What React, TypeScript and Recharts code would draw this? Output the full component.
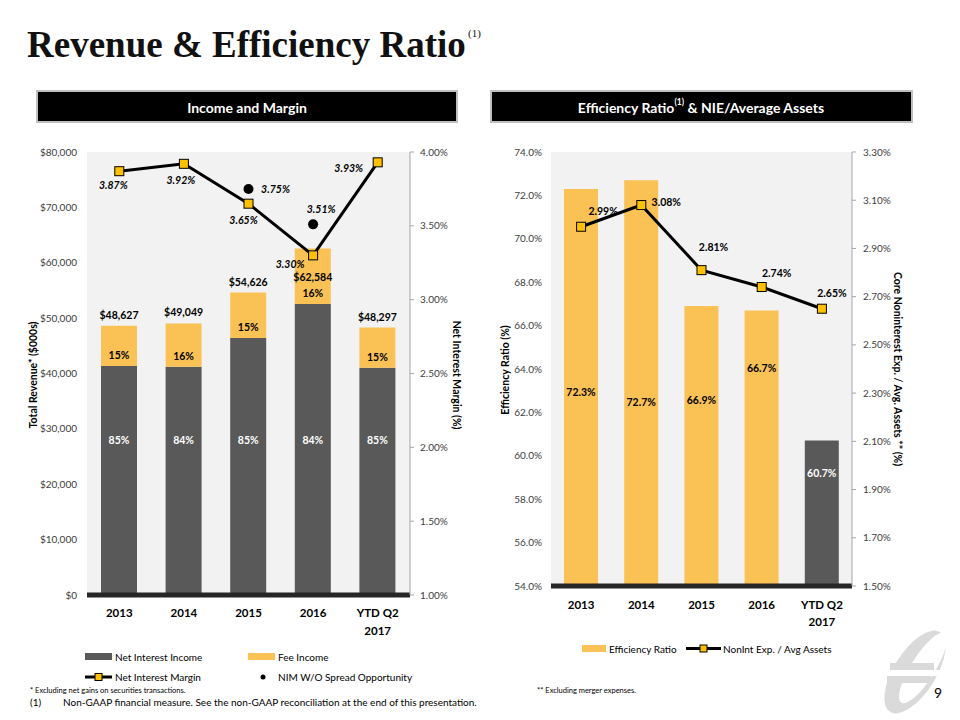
import React from 'react';
import { ComposedChart, Bar, Line, XAxis, YAxis, CartesianGrid, LabelList, Cell } from 'recharts';

// ---------- data ----------
const categories = ['2013', '2014', '2015', '2016', 'YTD Q2\n2017'];
const totalRevenue = [48627, 49049, 54626, 62584, 48297];
const netInterestIncome = [41333, 41201, 46432, 52571, 41052];
const feeIncome = [7294, 7848, 8194, 10013, 7245];
const niiShareLabels = ['85%', '84%', '85%', '84%', '85%'];
const feeShareLabels = ['15%', '16%', '15%', '16%', '15%'];
const netInterestMargin = [3.87, 3.92, 3.65, 3.30, 3.93];
const nimWithoutSpread = [null, null, 3.75, 3.51, null];

const efficiencyRatio = [72.3, 72.7, 66.9, 66.7, 60.7];
const nonIntExpAvgAssets = [2.99, 3.08, 2.81, 2.74, 2.65];

const revenueTicks = [0, 10000, 20000, 30000, 40000, 50000, 60000, 70000, 80000];
const nimTicks = [1.0, 1.5, 2.0, 2.5, 3.0, 3.5, 4.0];
const effTicks = [54, 56, 58, 60, 62, 64, 66, 68, 70, 72, 74];
const nieTicks = [1.5, 1.7, 1.9, 2.1, 2.3, 2.5, 2.7, 2.9, 3.1, 3.3];

// ---------- styles ----------
const ORANGE = '#FAC155';
const DARK = '#595959';
const MARKER = '#FFC000';
const PLOT_BG = '#F2F2F2';
const FONT = 'Lato, "Open Sans", sans-serif';
const TICK_STYLE = { fontSize: 10, fill: '#404040', fontFamily: FONT };
const EFF_COLORS = [ORANGE, ORANGE, ORANGE, ORANGE, DARK];
const EFF_TEXT = ['#000', '#000', '#000', '#000', '#fff'];
// label placement (dx, dy) relative to the marker / bar top
const NIM_LABEL_OFFSETS = [[-6, 14], [-3, 16], [-5, 16], [-23, 9], [-29, 6]];
const SPREAD_LABEL_OFFSETS = [[0, 0], [0, 0], [27, 0], [8, -15], [0, 0]];
const NIE_LABEL_OFFSETS = [[22, -16], [25, -3], [12, -23], [15, -14], [10, -16]];
const EFF_LABEL_DROP = [203, 222, 94, 58, 32];

const incomeData = categories.map((c, i) => ({
  name: c,
  nii: netInterestIncome[i],
  fee: feeIncome[i],
  total: totalRevenue[i],
  niiShare: niiShareLabels[i],
  feeShare: feeShareLabels[i],
  nim: netInterestMargin[i],
  nimWo: nimWithoutSpread[i],
}));

const effData = categories.map((c, i) => ({
  name: c,
  eff: efficiencyRatio[i],
  nie: nonIntExpAvgAssets[i],
}));

const CategoryTick = (dy0: number, dy1: number) => (props: any) => {
  const { x, y, payload } = props;
  const lines = String(payload.value).split('\n');
  return (
    <text x={x} y={y} textAnchor="middle" fontFamily={FONT} fontWeight={700} fontSize={11.5} fill="#000">
      {lines.map((l, i) => (
        <tspan key={i} x={x} dy={i === 0 ? dy0 : dy1}>{l}</tspan>
      ))}
    </text>
  );
};

const SquareDot = (props: any) => {
  const { cx, cy, index } = props;
  if (cx == null || cy == null) return <g key={index} />;
  return <rect key={index} x={cx - 4.5} y={cy - 4.5} width={9} height={9} fill={MARKER} stroke="#000" strokeWidth={1} />;
};

const BlackDot = (props: any) => {
  const { cx, cy, index, value } = props;
  if (cx == null || cy == null || value == null) return <g key={index} />;
  return <circle key={index} cx={cx} cy={cy} r={5} fill="#000" />;
};

const pointLabel = (offsets: number[][], italic: boolean) => (props: any) => {
  const { x, y, value, index } = props;
  if (value == null || x == null || y == null) return null;
  const [dx, dy] = offsets[index];
  return (
    <text x={x + dx} y={y + dy} textAnchor="middle" dominantBaseline="central" fontFamily={FONT}
      fontWeight={700} fontStyle={italic ? 'italic' : 'normal'} fontSize={10.5} fill="#000">
      {`${Number(value).toFixed(2)}%`}
    </text>
  );
};

const totalLabel = (props: any) => {
  const { x, y, width, index } = props;
  const ty = index === 3 ? y + 29 : y - 11;
  return (
    <text x={x + width / 2} y={ty} textAnchor="middle" dominantBaseline="central" fontFamily={FONT}
      fontWeight={700} fontSize={10.5} fill="#000">
      {`$${totalRevenue[index].toLocaleString('en-US')}`}
    </text>
  );
};

const feeShareLabel = (props: any) => {
  const { x, y, width, height, value } = props;
  return (
    <text x={x + width / 2} y={y + height - 11} textAnchor="middle" dominantBaseline="central" fontFamily={FONT}
      fontWeight={700} fontSize={10.5} fill="#000">{value}</text>
  );
};

const niiShareLabel = (props: any) => {
  const { x, y, width, height, value } = props;
  return (
    <text x={x + width / 2} y={y + height - 155} textAnchor="middle" dominantBaseline="central" fontFamily={FONT}
      fontWeight={700} fontSize={10.5} fill="#fff">{value}</text>
  );
};

const effLabel = (props: any) => {
  const { x, y, width, value, index } = props;
  return (
    <text x={x + width / 2} y={y + EFF_LABEL_DROP[index]} textAnchor="middle" dominantBaseline="central" fontFamily={FONT}
      fontWeight={700} fontSize={10.5} fill={EFF_TEXT[index]}>{`${Number(value).toFixed(1)}%`}</text>
  );
};

const Logo = () => (
  <g>
    <defs>
      <mask id="logoMask">
        <rect x={860} y={615} width={100} height={105} fill="#fff" />
        <ellipse cx={923} cy={668} rx={12} ry={41} transform="rotate(32 923 668)" fill="#000" />
        <rect x={880} y={670} width={60} height={6} fill="#000" />
      </mask>
    </defs>
    <g mask="url(#logoMask)" fill="#DADADA">
      <ellipse cx={915} cy={672} rx={21} ry={47} transform="rotate(32 915 672)" />
    </g>
    <rect x={890} y={663} width={44} height={7} fill="#DADADA" />
    <rect x={887} y={676} width={44} height={7} fill="#DADADA" />
  </g>
);

export default function App() {
  return (
    <div style={{ position: 'absolute', left: 0, top: 0, width: 960, height: 720, background: '#fff', overflow: 'hidden' }}>
      {/* left chart */}
      <div style={{ position: 'absolute', left: 0, top: 0 }}>
        <ComposedChart width={480} height={660} data={incomeData}
          margin={{ top: 152, right: 20, left: 27, bottom: 25 }}>
          <CartesianGrid yAxisId="left" horizontal={false} vertical={false} fill={PLOT_BG} stroke="none" />
          <XAxis dataKey="name" height={40} interval={0} tickLine={false}
            axisLine={{ stroke: '#262626', strokeWidth: 5 }} tick={CategoryTick(14, 18)} />
          <YAxis yAxisId="left" width={60} domain={[0, 80000]} ticks={revenueTicks} interval={0}
            axisLine={false} tickLine={false} tickSize={4} tickMargin={6} tick={TICK_STYLE}
            tickFormatter={(v: number) => `$${v.toLocaleString('en-US')}`} />
          <YAxis yAxisId="right" orientation="right" width={50} domain={[1, 4]} ticks={nimTicks} interval={0}
            axisLine={{ stroke: '#A6A6A6' }} tickLine={{ stroke: '#A6A6A6' }} tickSize={4} tickMargin={6} tick={TICK_STYLE}
            tickFormatter={(v: number) => `${v.toFixed(2)}%`} />
          <Bar yAxisId="left" dataKey="nii" stackId="rev" fill={DARK} barSize={36} isAnimationActive={false}>
            <LabelList dataKey="niiShare" content={niiShareLabel} />
          </Bar>
          <Bar yAxisId="left" dataKey="fee" stackId="rev" fill={ORANGE} barSize={36} isAnimationActive={false}>
            <LabelList dataKey="feeShare" content={feeShareLabel} />
            <LabelList dataKey="total" content={totalLabel} />
          </Bar>
          <Line yAxisId="right" dataKey="nim" stroke="#000" strokeWidth={3} dot={SquareDot} activeDot={false}
            isAnimationActive={false}>
            <LabelList dataKey="nim" content={pointLabel(NIM_LABEL_OFFSETS, true)} />
          </Line>
          <Line yAxisId="right" dataKey="nimWo" stroke="none" strokeWidth={0} dot={BlackDot} activeDot={false}
            isAnimationActive={false}>
            <LabelList dataKey="nimWo" content={pointLabel(SPREAD_LABEL_OFFSETS, true)} />
          </Line>
        </ComposedChart>
      </div>

      {/* right chart */}
      <div style={{ position: 'absolute', left: 480, top: 0 }}>
        <ComposedChart width={480} height={640} data={effData}
          margin={{ top: 152, right: 48, left: 16, bottom: 14 }}>
          <CartesianGrid yAxisId="left" horizontal={false} vertical={false} fill={PLOT_BG} stroke="none" />
          <XAxis dataKey="name" height={40} interval={0} tickLine={false}
            axisLine={{ stroke: '#262626', strokeWidth: 5 }} tick={CategoryTick(15, 17)} />
          <YAxis yAxisId="left" width={55} domain={[54, 74]} ticks={effTicks} interval={0} allowDataOverflow
            axisLine={false} tickLine={false} tickSize={4} tickMargin={5} tick={TICK_STYLE}
            tickFormatter={(v: number) => `${v.toFixed(1)}%`} />
          <YAxis yAxisId="right" orientation="right" width={60} domain={[1.5, 3.3]} ticks={nieTicks} interval={0}
            axisLine={{ stroke: '#A6A6A6' }} tickLine={{ stroke: '#A6A6A6' }} tickSize={4} tickMargin={7} tick={TICK_STYLE}
            tickFormatter={(v: number) => `${v.toFixed(2)}%`} />
          <Bar yAxisId="left" dataKey="eff" barSize={34} isAnimationActive={false}>
            {effData.map((d, i) => <Cell key={d.name} fill={EFF_COLORS[i]} />)}
            <LabelList dataKey="eff" content={effLabel} />
          </Bar>
          <Line yAxisId="right" dataKey="nie" stroke="#000" strokeWidth={3} dot={SquareDot} activeDot={false}
            isAnimationActive={false}>
            <LabelList dataKey="nie" content={pointLabel(NIE_LABEL_OFFSETS, false)} />
          </Line>
        </ComposedChart>
      </div>

      {/* static overlay: title, headers, axis titles, legends, footnotes */}
      <svg width={960} height={720} style={{ position: 'absolute', left: 0, top: 0, pointerEvents: 'none' }}>
        <text x={27} y={57} fontFamily='"Liberation Serif", serif' fontWeight={700} fontSize={37} fill="#111">Revenue &amp; Efficiency Ratio</text>
        <text x={468} y={37} fontFamily='"Liberation Serif", serif' fontSize={11} fill="#111">(1)</text>

        <rect x={37} y={91} width={420} height={31} fill="#000" stroke="#BFBFBF" strokeWidth={2} />
        <text x={247} y={107} textAnchor="middle" dominantBaseline="central" fontFamily={FONT} fontWeight={700} fontSize={14} fill="#fff">Income and Margin</text>
        <rect x={491} y={91} width={421} height={31} fill="#000" stroke="#BFBFBF" strokeWidth={2} />
        <text x={701} y={107} textAnchor="middle" dominantBaseline="central" fontFamily={FONT} fontWeight={700} fontSize={14} fill="#fff">
          Efficiency Ratio<tspan fontSize={8.5} dy={-5}>(1)</tspan><tspan dy={5}> &amp; NIE/Average Assets</tspan>
        </text>

        {/* axis titles */}
        <text transform="translate(33 375) rotate(-90)" textAnchor="middle" dominantBaseline="central" fontFamily={FONT} fontWeight={700} fontSize={10.5} fill="#000">Total Revenue* ($000s)</text>
        <text transform="translate(457 375) rotate(90)" textAnchor="middle" dominantBaseline="central" fontFamily={FONT} fontWeight={700} fontSize={10.5} fill="#000">Net Interest Margin (%)</text>
        <text transform="translate(505 370) rotate(-90)" textAnchor="middle" dominantBaseline="central" fontFamily={FONT} fontWeight={700} fontSize={10.5} fill="#000">Efficiency Ratio (%)</text>
        <text transform="translate(898 369) rotate(90)" textAnchor="middle" dominantBaseline="central" fontFamily={FONT} fontWeight={700} fontSize={10.5} fill="#000">Core Noninterest Exp. / Avg. Assets ** (%)</text>

        {/* left legend */}
        <rect x={85} y={653} width={27} height={7} fill={DARK} />
        <text x={115} y={656.5} dominantBaseline="central" fontFamily={FONT} fontSize={10} fill="#000">Net Interest Income</text>
        <rect x={248} y={653} width={27} height={7} fill={ORANGE} />
        <text x={278} y={656.5} dominantBaseline="central" fontFamily={FONT} fontSize={10} fill="#000">Fee Income</text>
        <line x1={85} y1={677} x2={112} y2={677} stroke="#000" strokeWidth={3} />
        <rect x={95} y={673.5} width={7} height={7} fill={MARKER} stroke="#000" strokeWidth={1} />
        <text x={115} y={677} dominantBaseline="central" fontFamily={FONT} fontSize={10} fill="#000">Net Interest Margin</text>
        <circle cx={263} cy={677} r={2.5} fill="#000" />
        <text x={278} y={677} dominantBaseline="central" fontFamily={FONT} fontSize={10} fill="#000">NIM W/O Spread Opportunity</text>

        {/* right legend */}
        <rect x={582} y={645} width={24} height={7} fill={ORANGE} />
        <text x={609} y={648.5} dominantBaseline="central" fontFamily={FONT} fontSize={10} fill="#000">Efficiency Ratio</text>
        <line x1={686} y1={648.5} x2={721} y2={648.5} stroke="#000" strokeWidth={3} />
        <rect x={700} y={645} width={7} height={7} fill={MARKER} stroke="#000" strokeWidth={1} />
        <text x={723} y={648.5} dominantBaseline="central" fontFamily={FONT} fontSize={10} fill="#000">NonInt Exp. / Avg Assets</text>

        {/* footnotes */}
        <text x={30} y={693} fontFamily={FONT} fontSize={7.5} fill="#000">* Excluding net gains on securities transactions.</text>
        <text x={30} y={706} fontFamily={FONT} fontSize={10} fill="#000">(1)</text>
        <text x={63} y={706} fontFamily={FONT} fontSize={10} fill="#000">Non-GAAP financial measure. See the non-GAAP reconciliation at the end of this presentation.</text>
        <text x={537} y={693} fontFamily={FONT} fontSize={7.5} fill="#000">** Excluding merger expenses.</text>

        <Logo />
        <text x={934} y={698} fontFamily={FONT} fontSize={14} fill="#000">9</text>
      </svg>
    </div>
  );
}
